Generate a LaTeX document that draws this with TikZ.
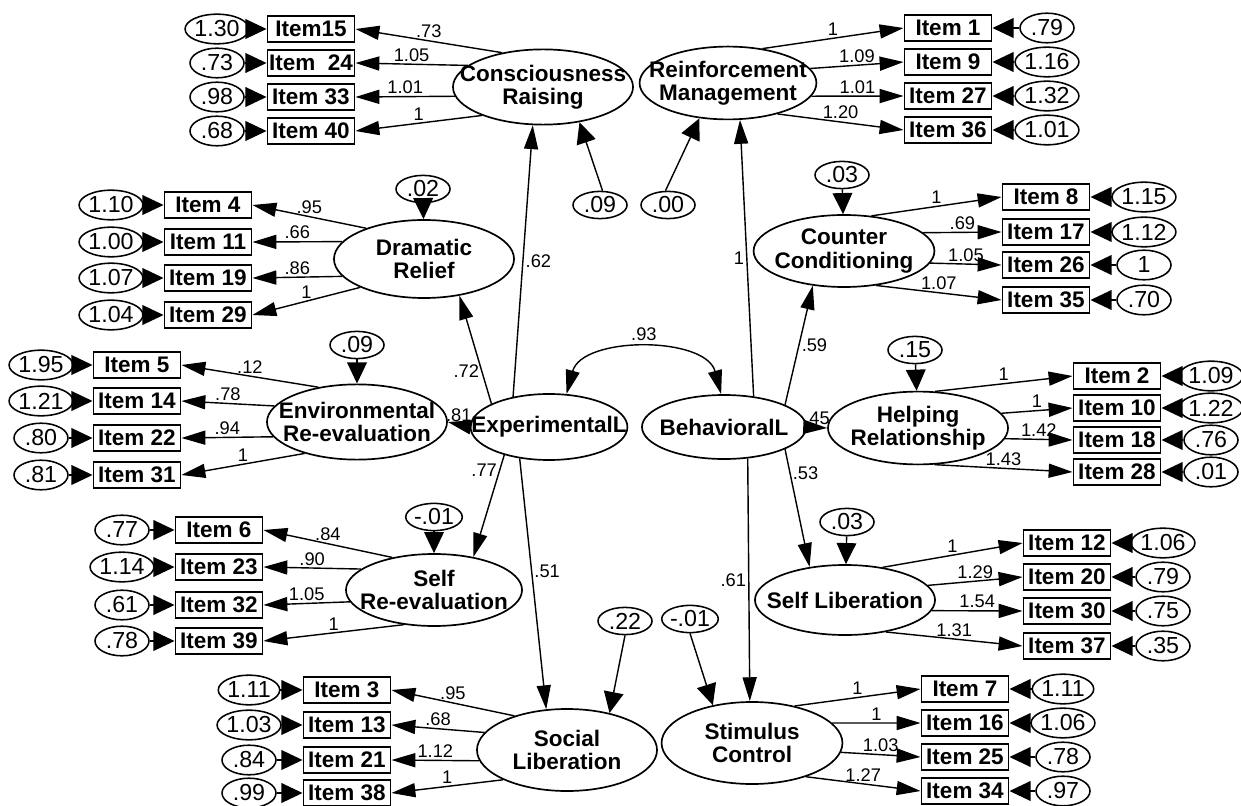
\documentclass[tikz,border=0pt]{standalone}
\usepackage{fontspec}
\setmainfont{Liberation Sans}
\usetikzlibrary{shapes.geometric,arrows.meta}

\tikzset{
  item/.style={draw, line width=1.2pt, minimum width=2.18cm, minimum height=0.66cm, inner sep=0pt, font=\fontsize{16}{18}\selectfont\bfseries},
  err/.style={draw, line width=1.1pt, ellipse, minimum width=1.35cm, minimum height=0.74cm, inner sep=0pt, font=\fontsize{16.5}{18}\selectfont},
  res/.style={err, minimum height=0.68cm},
  latent/.style={draw, line width=1.2pt, ellipse, inner sep=0pt},
  lattext/.style={font=\fontsize{16}{16.5}\selectfont\bfseries, align=center},
  load/.style={line width=1pt, -{Triangle[length=17pt,width=10pt]}},
  errarr/.style={line width=1pt, -{Triangle[length=15pt,width=14pt]}},
  num/.style={font=\fontsize{13}{15}\selectfont, inner sep=1.5pt},
}

\begin{document}
\begin{tikzpicture}[x=0.025cm, y=-0.025cm]
  \useasboundingbox (0,0) rectangle (1241,806);

  % Second order factors
  \node[latent, minimum width=3.92cm, minimum height=1.65cm, label={[lattext]center:ExperimentalL}] (exp) at (549,427) {};
  \node[latent, minimum width=4.1cm, minimum height=1.6cm, label={[lattext]center:BehavioralL}] (beh) at (724,427) {};
  \draw[{Triangle[length=17pt,width=10pt]}-{Triangle[length=17pt,width=10pt]}, line width=1pt] (exp.62) to[bend left=75] node[num, above=5pt] {.93} (beh.95);

  % Consciousness Raising
  \node[latent, minimum width=4.5cm, minimum height=1.88cm, label={[lattext]center:Consciousness\\Raising}] (cr) at (543,87) {};
  \foreach \n/\txt/\e/\y/\a/\lab in {15/Item15/1.30/29/140/.73, 24/{Item\ \ 24}/.73/63/164/1.05, 33/Item 33/.98/97/186/1.01, 40/Item 40/.68/131/205/1} {
    \node[item] (i\n) at (311,\y) {\txt};
    \node[err] (e\n) at (217,\y) {\e};
    \draw[errarr] (e\n) -- (i\n);
    \draw[load] (cr.\a) -- (i\n.east) node[num, midway, above] {\lab};
  }
  \node[res] (dcr) at (600,205) {.09};
  \draw[errarr] (dcr.80) -- (cr.316);

  % Reinforcement Management
  \node[latent, minimum width=4.42cm, minimum height=1.82cm, label={[lattext]center:Reinforcement\\Management}] (rm) at (728,83) {};
  \foreach \n/\e/\y/\a/\lab in {1/.79/28/45/1, 9/1.16/62/10/1.09, 27/1.32/96/351/1.01, 36/1.01/130/328/1.20} {
    \node[item] (i\n) at (948,\y) {Item \n};
    \node[err] (e\n) at (1047,\y) {\e};
    \draw[errarr] (e\n) -- (i\n);
    \draw[load] (rm.\a) -- (i\n.west) node[num, midway, above] {\lab};
  }
  \node[res] (drm) at (668,205) {.00};
  \draw[errarr] (drm.100) -- (rm.231);

  % Dramatic Relief
  \node[latent, minimum width=4.5cm, minimum height=1.95cm, label={[lattext]center:Dramatic\\Relief}] (dr) at (424,259) {};
  \foreach \n/\e/\y/\a/\lab in {4/1.10/205/152/.95, 11/1.00/242/168/.66, 19/1.07/278/192/.86, 29/1.04/315/204/1} {
    \node[item] (i\n) at (208,\y) {Item \n};
    \node[err] (e\n) at (111,\y) {\e};
    \draw[errarr] (e\n) -- (i\n);
    \draw[load] (dr.\a) -- (i\n.east) node[num, midway, above] {\lab};
  }
  \node[res] (ddr) at (423,189) {.02};
  \draw[errarr] (ddr) -- (dr);

  % Environmental Re-evaluation
  \node[latent, minimum width=4.5cm, minimum height=1.88cm, label={[lattext]center:Environmental\\Re-evaluation}] (er) at (357,422) {};
  \foreach \n/\e/\y/\a/\lab in {5/1.95/365/138/.12, 14/1.21/401/169/.78, 22/.80/438/190/.94, 31/.81/475/211/1} {
    \node[item] (i\n) at (137,\y) {Item \n};
    \node[err] (e\n) at (41,\y) {\e};
    \draw[errarr] (e\n) -- (i\n);
    \draw[load] (er.\a) -- (i\n.east) node[num, midway, above] {\lab};
  }
  \node[res] (der) at (357,345) {.09};
  \draw[errarr] (der) -- (er);

  % Self Re-evaluation
  \node[latent, minimum width=4.4cm, minimum height=1.8cm, label={[lattext]center:Self\\Re-evaluation}] (sr) at (434,590) {};
  \foreach \n/\e/\y/\a/\lab in {6/.77/530/142/.84, 23/1.14/567/164/.90, 32/.61/605/188/1.05, 39/.78/641/229/1} {
    \node[item] (i\n) at (219,\y) {Item \n};
    \node[err] (e\n) at (122,\y) {\e};
    \draw[errarr] (e\n) -- (i\n);
    \draw[load] (sr.\a) -- (i\n.east) node[num, midway, above] {\lab};
  }
  \node[res] (dsr) at (434,517) {-.01};
  \draw[errarr] (dsr) -- (sr);

  % Social Liberation
  \node[latent, minimum width=4.5cm, minimum height=2.05cm, label={[lattext]center:Social\\Liberation}] (sol) at (567,750) {};
  \foreach \n/\e/\y/\a/\lab in {3/1.11/690/147/.95, 13/1.03/725/168/.68, 21/.84/760/187/1.12, 38/.99/793/205/1} {
    \node[item] (i\n) at (347,\y) {Item \n};
    \node[err] (e\n) at (249,\y) {\e};
    \draw[errarr] (e\n) -- (i\n);
    \draw[load] (sol.\a) -- (i\n.east) node[num, midway, above] {\lab};
  }
  \node[res] (dsol) at (625,621) {.22};
  \draw[errarr] (dsol.south) -- (sol.41);

  % Counter Conditioning
  \node[latent, minimum width=4.52cm, minimum height=1.8cm, label={[lattext]center:Counter\\Conditioning}] (cc) at (844,251) {};
  \foreach \n/\e/\y/\a/\lab in {8/1.15/197/52/1, 17/1.12/232/13/.69, 26/1/265/352/1.05, 35/.70/300/313/1.07} {
    \node[item] (i\n) at (1046,\y) {Item \n};
    \node[err] (e\n) at (1144,\y) {\e};
    \draw[errarr] (e\n) -- (i\n);
    \draw[load] (cc.\a) -- (i\n.west) node[num, midway, above] {\lab};
  }
  \node[res] (dcc) at (842,175) {.03};
  \draw[errarr] (dcc) -- (cc);

  % Helping Relationship
  \node[latent, minimum width=4.5cm, minimum height=1.82cm, label={[lattext]center:Helping\\Relationship}] (hr) at (918,428) {};
  \foreach \n/\e/\y/\a/\lab in {2/1.09/376/65/1, 10/1.22/408/10/1, 18/.76/440/353/1.42, 28/.01/472/294/1.43} {
    \node[item] (i\n) at (1117,\y) {Item \n};
    \node[err] (e\n) at (1211,\y) {\e};
    \draw[errarr] (e\n) -- (i\n);
    \draw[load] (hr.\a) -- (i\n.west) node[num, midway, above] {\lab};
  }
  \node[res] (dhr) at (915,350) {.15};
  \draw[errarr] (dhr) -- (hr);

  % Self Liberation
  \node[latent, minimum width=4.5cm, minimum height=1.75cm, label={[lattext]center:Self Liberation}] (sl) at (845,600) {};
  \foreach \n/\e/\y/\a/\lab in {12/1.06/543/41/1, 20/.79/577/10/1.29, 30/.75/611/353/1.54, 37/.35/646/322/1.31} {
    \node[item] (i\n) at (1067,\y) {Item \n};
    \node[err] (e\n) at (1163,\y) {\e};
    \draw[errarr] (e\n) -- (i\n);
    \draw[load] (sl.\a) -- (i\n.west) node[num, midway, above] {\lab};
  }
  \node[res] (dsl) at (847,522) {.03};
  \draw[errarr] (dsl) -- (sl);

  % Stimulus Control
  \node[latent, minimum width=4.52cm, minimum height=2.05cm, label={[lattext]center:Stimulus\\Control}] (sc) at (752,743) {};
  \foreach \n/\e/\y/\a/\lab in {7/1.11/689/41/1, 16/1.06/723/14/1, 25/.78/757/354/1.03, 34/.97/791/328/1.27} {
    \node[item] (i\n) at (965,\y) {Item \n};
    \node[err] (e\n) at (1063,\y) {\e};
    \draw[errarr] (e\n) -- (i\n);
    \draw[load] (sc.\a) -- (i\n.west) node[num, midway, above] {\lab};
  }
  \node[res] (dsc) at (690,619) {-.01};
  \draw[errarr] (dsc.south) -- (sc.136);

  % Second order loadings
  \draw[load] (exp.140) -- (cr.255) node[num, pos=0.5, right] {.62};
  \draw[load] (exp.158) -- (dr.314) node[num, pos=0.3, left] {.72};
  \draw[load] (exp.180) -- (er.0) node[num, pos=0.5, above] {.81};
  \draw[load] (exp.212) -- (sr.40) node[num, pos=0.15, left] {.77};
  \draw[load] (exp.227) -- (sol.117) node[num, pos=0.45, right] {.51};
  \draw[load] (beh.46) -- (rm.288) node[num, pos=0.5, left] {1};
  \draw[load] (beh.20) -- (cc.228) node[num, pos=0.5, right] {.59};
  \draw[load] (beh.east) -- (hr.west) node[num, pos=0.5, above] {.45};
  \draw[load] (beh.340) -- (sl.137) node[num, pos=0.2, right] {.53};
  \draw[load] (beh.307) -- (sc.93) node[num, pos=0.5, left] {.61};
\end{tikzpicture}
\end{document}
